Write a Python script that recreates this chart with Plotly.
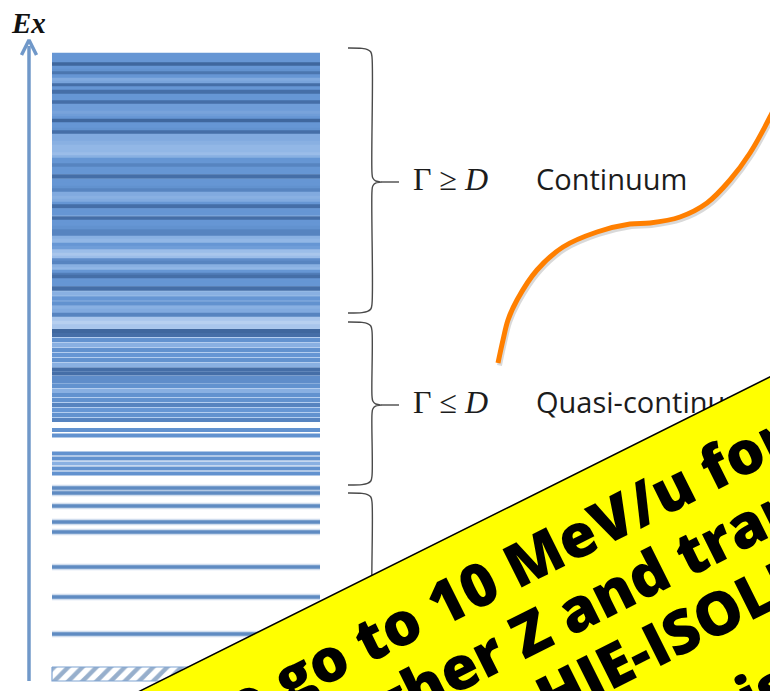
import math
import plotly.graph_objects as go

W, H = 770, 691
PX0 = 674  # pixel row of the ground state; one energy unit equals one pixel


def ey(py):
    """pixel row -> energy-axis value"""
    return PX0 - py


# ---------------- level scheme (energies in arbitrary units, g.s. = 0) ----------------
continuum_ex = [619, 615, 612, 609.5, 606, 603, 600.5, 597.5, 594, 591, 588.5, 585.5,
                582, 578, 575, 571.5, 568, 564.5, 561, 558, 555.5, 553, 549.5, 546.5,
                544, 541.5, 538, 534.5, 531, 527, 523, 519.5, 516.5, 514, 511, 508.5,
                505, 502, 497.5, 493, 489.5, 486, 483.5, 480, 476, 473, 470, 467.5,
                463.5, 460.5, 455.5, 452, 449, 446, 442.5, 440, 436, 433, 429, 426,
                422.5, 419, 416, 413.5, 411, 407.5, 404.5, 402, 399, 397, 393.5, 390,
                385.5, 380.5, 375.5, 370.5, 366, 363, 359, 355, 351, 347.5]
continuum_shade = [0.5, 0.5, 0.5, 0.9, 0.5, 0.55, 0.8, 0.5, 0.35, 0.4, 0.85, 0.5,
                   0.85, 0.5, 0.5, 0.85, 0.45, 0.45, 0.4, 0.45, 0.5, 0.9, 0.5, 0.5,
                   0.55, 0.85, 0.35, 0.35, 0.3, 0.25, 0.25, 0.2, 0.3, 0.5, 0.5, 0.7,
                   0.5, 0.5, 0.85, 0.5, 0.5, 0.55, 0.7, 0.35, 0.3, 0.35, 0.5, 0.85,
                   0.5, 0.5, 0.85, 0.5, 0.5, 0.55, 0.7, 0.7, 0.3, 0.25, 0.5, 0.45,
                   0.2, 0.15, 0.2, 0.6, 0.7, 0.3, 0.25, 0.5, 0.75, 0.85, 0.5, 0.5,
                   0.85, 0.3, 0.5, 0.55, 0.3, 0.35, 0.7, 0.15, 0.1, 0.15]

quasi_ex = [343, 339, 334, 329, 324, 319, 314, 309, 304.5, 300.5, 296, 292.5, 288,
            283, 279, 274, 269, 264, 259, 254, 244, 238.5, 220.5, 215.5, 210.5,
            205.5, 200.5]
quasi_shade = [0.9, 0.85, 0.55, 0.3, 0.55, 0.5, 0.55, 0.3, 0.85, 0.85, 0.6, 0.6, 0.55,
               0.3, 0.55, 0.55, 0.7, 0.5, 0.55, 0.7, 0.55, 0.55, 0.55, 0.55, 0.3,
               0.55, 0.55]

discrete_ex = [186, 181, 168, 152, 142, 107, 77, 40]
ground_ex = 0

# level-density envelope behind the dense part of the spectrum
envelope_ex = [252, 621]

# braces: (upper edge, lower edge, tip) of each energy region
regions = [(626, 361, 492), (352, 189, 269), (181, -46, 74)]
region_condition = ["Γ ≥ <i>D</i>", "Γ ≤ <i>D</i>", ""]
region_name = ["Continuum", "Quasi-continuum", ""]

# connector curve (x in px, energy units)
curve_x = [498, 503, 508, 517, 537, 563, 597, 630, 650, 680, 707, 730, 750, 770, 785]
curve_ex = [311, 334, 354, 374, 404, 427, 442, 450, 451, 457, 471, 494, 521, 557, 589]

banner_lines = ["Need to go to 10 MeV/u for",
                "higher Z and transfer",
                "reactions: HIE-ISOLDE",
                "is the answer"]

# ---------------- drawing ----------------
X0, X1 = 52, 320           # horizontal extent of the level lines
SHADE_SCALE = [[0.0, "#d2e2f6"], [0.2, "#9bbde9"], [0.5, "#6696d4"],
               [0.7, "#5784c0"], [0.9, "#3f679e"], [1.0, "#355a8c"]]
INK = "#1c1c1c"

fig = go.Figure()

# envelope
fig.add_trace(go.Bar(orientation="h", y=[(envelope_ex[0] + envelope_ex[1]) / 2],
                     x=[X1 - X0], base=X0, width=envelope_ex[1] - envelope_ex[0],
                     marker=dict(color="#b3cdef", line_width=0), hoverinfo="skip"))

# continuum and quasi-continuum levels
for ex, sh, w in ((continuum_ex, continuum_shade, 4.4), (quasi_ex, quasi_shade, 4.0)):
    fig.add_trace(go.Bar(orientation="h", y=ex, x=[X1 - X0] * len(ex), base=X0,
                         width=w,
                         marker=dict(color=sh, colorscale=SHADE_SCALE, cmin=0, cmax=1,
                                     line_width=0),
                         hoverinfo="skip"))

# discrete levels: soft halo + line
fig.add_trace(go.Bar(orientation="h", y=discrete_ex, x=[X1 - X0] * len(discrete_ex),
                     base=X0, width=6.5,
                     marker=dict(color="rgba(120,158,205,0.35)", line_width=0),
                     hoverinfo="skip"))
fig.add_trace(go.Bar(orientation="h", y=discrete_ex, x=[X1 - X0] * len(discrete_ex),
                     base=X0, width=3.4,
                     marker=dict(color="#5f8bc2", line_width=0), hoverinfo="skip"))

# hatched ground state
gx = [X0, 330, 330, X0, X0]
gy = [ground_ex + 7, ground_ex + 7, ground_ex - 7, ground_ex - 7, ground_ex + 7]
fig.add_trace(go.Scatter(x=gx, y=gy, mode="lines", fill="toself",
                         line=dict(color="#7fa3d2", width=1.2),
                         fillcolor="white",
                         fillpattern=dict(shape="/", fgcolor="#2f5f99", bgcolor="white",
                                          size=10, solidity=0.45),
                         hoverinfo="skip"))

# energy axis arrow
ARROW = "#7098c9"
fig.add_trace(go.Scatter(x=[29, 29], y=[ey(681), ey(46)], mode="lines",
                         line=dict(color=ARROW, width=3.5), hoverinfo="skip"))
fig.add_trace(go.Scatter(x=[21.5, 29, 36.5], y=[ey(55), ey(40), ey(55)], mode="lines",
                         line=dict(color=ARROW, width=3.5), hoverinfo="skip"))


def brace(top, bot, tip, xs=372):
    """curly brace path (energy units) opening to the left, pointing right"""
    t, b, m = top, bot, tip
    px = [348, 362, 367.5, 370.8, xs, xs, xs + 0.8, xs + 3.5, xs + 9,
          xs + 3.5, xs + 0.8, xs, xs, 370.8, 367.5, 362, 348]
    py = [t, t - 0.4, t - 1.6, t - 4, t - 9, m + 9, m + 4, m + 1.2, m,
          m - 1.2, m - 4, m - 9, b + 9, b + 4, b + 1.6, b + 0.4, b]
    return px, py


for (top, bot, tip), cond, name in zip(regions, region_condition, region_name):
    bx, by = brace(top, bot, tip)
    fig.add_trace(go.Scatter(x=bx, y=by, mode="lines", line=dict(color="#4a4a4a", width=1.4),
                             line_shape="spline", hoverinfo="skip"))
    fig.add_trace(go.Scatter(x=[381, 399], y=[tip, tip], mode="lines",
                             line=dict(color="#4a4a4a", width=1.4), hoverinfo="skip"))
    if cond:
        fig.add_trace(go.Scatter(x=[413], y=[tip], mode="text", text=[cond],
                                 textposition="middle right",
                                 textfont=dict(family="Liberation Serif", size=32, color=INK),
                                 hoverinfo="skip"))
    if name:
        fig.add_trace(go.Scatter(x=[536], y=[tip - 1], mode="text", text=[name],
                                 textposition="middle right",
                                 textfont=dict(family="Open Sans", size=29, color=INK),
                                 hoverinfo="skip"))

# orange connector with a faint drop shadow
fig.add_trace(go.Scatter(x=[v + 1.5 for v in curve_x], y=[v - 2.5 for v in curve_ex],
                         mode="lines", line=dict(color="rgba(0,0,0,0.15)", width=5,
                                                 shape="spline"), hoverinfo="skip"))
fig.add_trace(go.Scatter(x=curve_x, y=curve_ex, mode="lines",
                         line=dict(color="#ff7f00", width=5, shape="spline"),
                         hoverinfo="skip"))

# axis label
fig.add_annotation(x=28, y=ey(23), xref="x", yref="y", text="<b><i>Ex</i></b>",
                   showarrow=False, xanchor="center", yanchor="middle",
                   font=dict(family="Liberation Serif", size=29, color="#111"))

# yellow banner
theta = math.radians(26.5)
ux, uy = math.cos(theta), -math.sin(theta)      # along the banner (pixel frame)
nx, ny = math.sin(theta), math.cos(theta)       # into the banner
P0 = (140, 691)


def at(a, d):
    return P0[0] + a * ux + d * nx, P0[1] + a * uy + d * ny


corners = [at(-400, 0), at(1200, 0), at(1200, 900), at(-400, 900)]
path = "M " + " L ".join(f"{px:.1f},{ey(py):.1f}" for px, py in corners) + " Z"
fig.add_shape(type="path", path=path, xref="x", yref="y", layer="above",
              fillcolor="#ffff00", line=dict(color="black", width=1.5))

# banner text, placed in paper coordinates so lines whose centre falls
# below the page are still drawn
line_pos = [(280, 55), (468, 121), (359, 187), (740, 276)]
for txt, (a, d) in zip(banner_lines, line_pos):
    cx, cy = at(a, d)
    fig.add_annotation(x=cx / W, y=1 - cy / H, xref="paper", yref="paper", text=txt,
                       showarrow=False, xanchor="center", yanchor="middle",
                       textangle=-math.degrees(theta),
                       font=dict(family="Open Sans", size=60, color="black", weight=800))

fig.update_layout(width=W, height=H, margin=dict(l=0, r=0, t=0, b=0),
                  paper_bgcolor="white", plot_bgcolor="white", showlegend=False,
                  barmode="overlay",
                  xaxis=dict(range=[0, W], visible=False, fixedrange=True),
                  yaxis=dict(range=[ey(H), ey(0)], visible=False, fixedrange=True))

fig.write_html("out.html")
